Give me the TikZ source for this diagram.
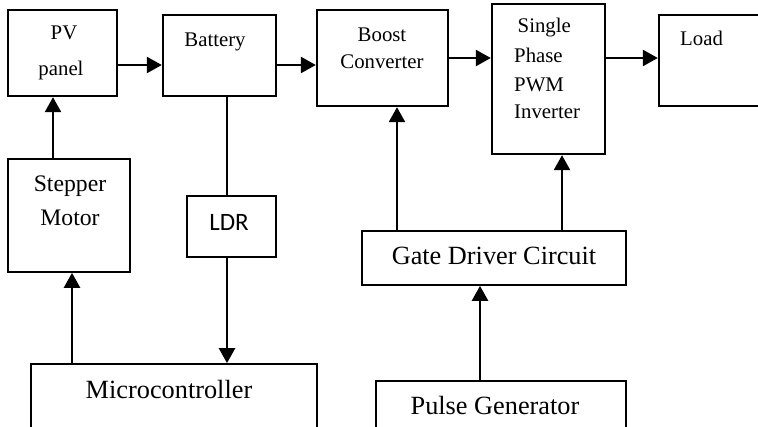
\documentclass[tikz,border=0pt]{standalone}
\usepackage{fontspec}
\setmainfont{Liberation Serif}
\newfontfamily\ldrfont{Carlito}
\usetikzlibrary{arrows.meta}
\begin{document}
\begin{tikzpicture}[x=1pt,y=-1pt,
  topbox/.style={draw, line width=2.4pt, inner sep=0pt},
  lowbox/.style={draw, line width=1.7pt, inner sep=0pt},
  toptxt/.style={anchor=base, inner sep=0pt, font=\fontsize{20.8}{24}\selectfont},
  midtxt/.style={anchor=base, inner sep=0pt, font=\fontsize{23.7}{28}\selectfont},
  bigtxt/.style={anchor=base, inner sep=0pt, font=\fontsize{26.3}{30}\selectfont},
  conn/.style={line width=2.5pt, -{Triangle[length=15pt,width=16pt]}},
  plain/.style={line width=2.5pt}]
\useasboundingbox (0,0) rectangle (758,427);
\clip (0,0) rectangle (758,427);
% boxes
\node[topbox, minimum width=109pt, minimum height=86pt] (pv) at (62.5,53) {};
\node[topbox, minimum width=113pt, minimum height=81pt] (bat) at (219.5,55.5) {};
\node[topbox, minimum width=131pt, minimum height=96pt] (boost) at (382.5,58) {};
\node[topbox, minimum width=113pt, minimum height=150pt] (inv) at (548.5,79) {};
\node[topbox, minimum width=131pt, minimum height=91pt] (load) at (724.5,60.5) {};
\node[lowbox, minimum width=122pt, minimum height=113pt] (step) at (69,215.5) {};
\node[lowbox, line width=1.5pt, minimum width=89pt, minimum height=61pt] (ldr) at (231.5,226.5) {};
\node[lowbox, minimum width=286pt, minimum height=86pt] (mcu) at (174,407) {};
\node[lowbox, minimum width=264pt, minimum height=54pt] (gate) at (494,258) {};
\node[lowbox, minimum width=250pt, minimum height=69pt] (pulse) at (501,415.5) {};
% texts
\node[toptxt] (tpv1) at (64,40) {PV};
\node[toptxt] (tpv2) at (61,76) {panel};
\node[toptxt] (tbat) at (215,47) {Battery};
\node[toptxt] (tbo1) at (382,42) {Boost};
\node[toptxt] (tbo2) at (382,69) {Converter};
\node[toptxt, anchor=base west] (tin1) at (517.5,33) {Single};
\node[toptxt, anchor=base west] (tin2) at (514,63) {Phase};
\node[toptxt, anchor=base west] (tin3) at (514,92) {PWM};
\node[toptxt, anchor=base west] (tin4) at (514,119) {Inverter};
\node[toptxt, anchor=base west] (tload) at (680,46) {Load};
\node[midtxt] (tst1) at (70,192) {Stepper};
\node[midtxt] (tst2) at (70,226) {Motor};
\node[anchor=base, inner sep=0pt, font=\ldrfont\fontsize{25}{30}\selectfont] (tldr) at (229,231) {LDR};
\node[bigtxt] (tmcu) at (169,399) {Microcontroller};
\node[bigtxt] (tgate) at (494,265) {Gate Driver Circuit};
\node[bigtxt] (tpulse) at (495,415) {Pulse Generator};
% helper x positions
\coordinate (x1) at (53,0);
\coordinate (x2) at (72,0);
\coordinate (x3) at (227,0);
\coordinate (x4) at (397,0);
\coordinate (x5) at (562,0);
\coordinate (x6) at (480,0);
\coordinate (y1) at (0,65);
\coordinate (y2) at (0,58);
% horizontal connectors
\draw[conn] (pv.east |- y1) -- (bat.west |- y1);
\draw[conn] (bat.east |- y1) -- (boost.west |- y1);
\draw[conn] (boost.east |- y2) -- (inv.west |- y2);
\draw[conn] (inv.east |- y2) -- (load.west |- y2);
% vertical connectors
\draw[conn] (step.north -| x1) -- (pv.south -| x1);
\draw[conn] (mcu.north -| x2) -- (step.south -| x2);
\draw[plain] (bat.south -| x3) -- (ldr.north -| x3);
\draw[conn] (ldr.south -| x3) -- (mcu.north -| x3);
\draw[conn] (gate.north -| x4) -- (boost.south -| x4);
\draw[conn] (gate.north -| x5) -- (inv.south -| x5);
\draw[conn] (pulse.north -| x6) -- (gate.south -| x6);
\end{tikzpicture}
\end{document}
